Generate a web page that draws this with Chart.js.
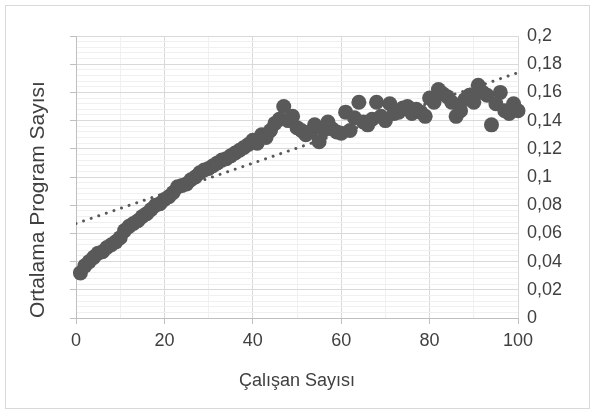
<!DOCTYPE html>
<html>
<head>
  <title>Çalışan Sayısı - Ortalama Program Sayısı</title>
  <script src="https://cdn.jsdelivr.net/npm/chart.js"></script>
  <style>
    body {
      margin: 0;
      background: #ffffff;
    }
    #frame {
      position: absolute;
      left: 5px;
      top: 5px;
      width: 583px;
      height: 402px;
      border: 1px solid #d9d9d9;
    }
    #chart {
      position: absolute;
      left: 0;
      top: 0;
    }
  </style>
</head>
<body>
  <div id="frame"></div>
  <canvas id="chart" width="593" height="412"></canvas>
  <script>
    // x: number of employees, y: average programs per employee
    const employees = [
      1, 2, 3, 4, 5, 6, 7, 8, 9, 10,
      11, 12, 13, 14, 15, 16, 17, 18, 19, 20,
      21, 22, 23, 24, 25, 26, 27, 28, 29, 30,
      31, 32, 33, 34, 35, 36, 37, 38, 39, 40,
      41, 42, 43, 44, 45, 46, 47, 48, 49, 50,
      51, 52, 53, 54, 55, 56, 57, 58, 59, 60,
      61, 62, 63, 64, 65, 66, 67, 68, 69, 70,
      71, 72, 73, 74, 75, 76, 77, 78, 79, 80,
      81, 82, 83, 84, 85, 86, 87, 88, 89, 90,
      91, 92, 93, 94, 95, 96, 97, 98, 99, 100
    ];
    const avgPrograms = [
      0.032, 0.037, 0.040, 0.043, 0.046, 0.047, 0.050, 0.052, 0.054, 0.057,
      0.062, 0.065, 0.067, 0.069, 0.072, 0.074, 0.077, 0.080, 0.081, 0.084,
      0.086, 0.089, 0.093, 0.094, 0.095, 0.098, 0.100, 0.103, 0.105, 0.106,
      0.108, 0.110, 0.112, 0.113, 0.115, 0.117, 0.119, 0.121, 0.123, 0.126,
      0.124, 0.130, 0.128, 0.133, 0.138, 0.141, 0.150, 0.140, 0.143, 0.135,
      0.133, 0.130, 0.132, 0.137, 0.125, 0.133, 0.139, 0.134, 0.132, 0.131,
      0.146, 0.133, 0.142, 0.153, 0.139, 0.137, 0.141, 0.153, 0.143, 0.140,
      0.152, 0.145, 0.146, 0.149, 0.150, 0.145, 0.148, 0.146, 0.143, 0.156,
      0.153, 0.162, 0.159, 0.157, 0.153, 0.143, 0.147, 0.155, 0.158, 0.153,
      0.165, 0.160, 0.158, 0.137, 0.152, 0.160, 0.147, 0.145, 0.152, 0.147
    ];
    // linear trendline end points
    const trendX = [0, 100];
    const trendY = [0.067, 0.174];

    const xTitle = 'Çalışan Sayısı';
    const yTitle = 'Ortalama Program Sayısı';

    const points = employees.map((x, i) => ({x: x, y: avgPrograms[i]}));
    const trend = trendX.map((x, i) => ({x: x, y: trendY[i]}));

    const textColor = '#404040';
    const majorGrid = '#d9d9d9';
    const minorGrid = '#f0f0f0';
    const font = {family: '"Liberation Sans", Arial, sans-serif', size: 18};

    function isMajorY(v) {
      return Math.round(v / 0.004) % 5 === 0;
    }

    new Chart(document.getElementById('chart'), {
      type: 'scatter',
      data: {
        datasets: [
          {
            data: points,
            backgroundColor: '#595959',
            borderWidth: 0,
            pointRadius: 7.5,
            pointHoverRadius: 7.5,
            clip: false,
            order: 0
          },
          {
            type: 'line',
            data: trend,
            borderColor: '#595959',
            borderWidth: 3,
            borderDash: [0.01, 8],
            borderCapStyle: 'round',
            pointRadius: 0,
            fill: false,
            order: 1
          }
        ]
      },
      options: {
        responsive: false,
        animation: false,
        layout: {
          padding: {left: 22, right: 0, top: 36, bottom: 16}
        },
        plugins: {
          legend: {display: false},
          tooltip: {enabled: false}
        },
        scales: {
          x: {
            type: 'linear',
            min: 0,
            max: 100,
            ticks: {
              stepSize: 10,
              color: textColor,
              font: font,
              padding: 6,
              maxRotation: 0,
              autoSkip: false,
              callback: v => (v % 20 === 0 ? v : '')
            },
            grid: {
              color: ctx => (ctx.tick && ctx.tick.value % 20 === 0 ? majorGrid : minorGrid),
              tickColor: ctx => (ctx.tick && ctx.tick.value % 20 === 0 ? '#bfbfbf' : 'rgba(0,0,0,0)'),
              tickLength: 6
            },
            border: {color: '#bfbfbf'},
            title: {
              display: true,
              text: xTitle,
              color: textColor,
              font: font
            },
            afterFit: scale => { scale.height = 78; }
          },
          y: {
            position: 'left',
            min: 0,
            max: 0.2,
            ticks: {
              display: false,
              stepSize: 0.004
            },
            grid: {
              color: ctx => (ctx.tick && isMajorY(ctx.tick.value) ? majorGrid : minorGrid),
              tickColor: ctx => (ctx.tick && isMajorY(ctx.tick.value) ? '#bfbfbf' : 'rgba(0,0,0,0)'),
              tickLength: 6
            },
            border: {color: '#bfbfbf'},
            title: {
              display: true,
              text: yTitle,
              color: textColor,
              align: 'start',
              font: {family: font.family, size: 21}
            },
            afterFit: scale => { scale.width = 54; }
          },
          yRight: {
            position: 'right',
            min: 0,
            max: 0.2,
            ticks: {
              stepSize: 0.02,
              color: textColor,
              font: font,
              padding: 9,
              callback: v => String(Math.round(v * 100) / 100).replace('.', ',')
            },
            grid: {display: false, drawTicks: false},
            border: {display: false},
            afterFit: scale => { scale.width = 75; }
          }
        }
      }
    });
  </script>
</body>
</html>
